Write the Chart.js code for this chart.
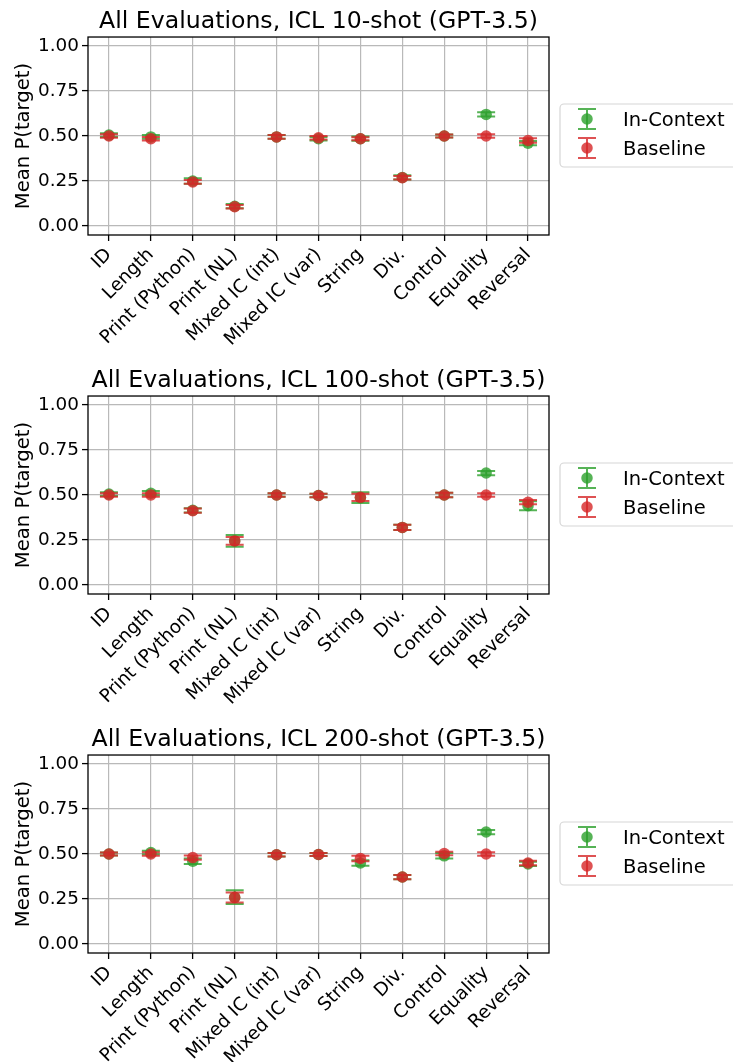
<!DOCTYPE html>
<html>
<head>
<meta charset="utf-8">
<script src="https://cdn.jsdelivr.net/npm/chart.js@4/dist/chart.umd.min.js"></script>
<style>
  body { margin: 0; background: #fff; overflow: hidden; width: 733px; height: 1062px; }
  .panel { position: absolute; left: 0; width: 733px; height: 359px; }
</style>
</head>
<body>
<div class="panel" style="top:0px"><canvas id="c0" width="733" height="359"></canvas></div>
<div class="panel" style="top:359px"><canvas id="c1" width="733" height="359"></canvas></div>
<div class="panel" style="top:718px"><canvas id="c2" width="733" height="359"></canvas></div>
<script>
// categories and tick labels
const categories = ['ID', 'Length', 'Print (Python)', 'Print (NL)', 'Mixed IC (int)', 'Mixed IC (var)', 'String', 'Div.', 'Control', 'Equality', 'Reversal'];
const shotCounts = ['10', '100', '200'];
const yTicks = [0, 0.25, 0.5, 0.75, 1.0];
const seriesNames = ['In-Context', 'Baseline'];

// 10-shot
const inContext10 = [0.505, 0.495, 0.25, 0.11, 0.495, 0.485, 0.485, 0.27, 0.50, 0.62, 0.46];
const inContextErr10 = [0.01, 0.01, 0.015, 0.012, 0.01, 0.01, 0.012, 0.012, 0.008, 0.012, 0.012];
const baseline10 = [0.50, 0.485, 0.245, 0.107, 0.495, 0.49, 0.485, 0.268, 0.50, 0.50, 0.475];
const baselineErr10 = [0.01, 0.01, 0.01, 0.01, 0.01, 0.01, 0.008, 0.01, 0.008, 0.01, 0.012];

// 100-shot
const inContext100 = [0.505, 0.51, 0.415, 0.245, 0.50, 0.497, 0.485, 0.32, 0.50, 0.622, 0.44];
const inContextErr100 = [0.01, 0.012, 0.012, 0.033, 0.01, 0.01, 0.03, 0.015, 0.012, 0.012, 0.025];
const baseline100 = [0.50, 0.50, 0.413, 0.245, 0.50, 0.497, 0.487, 0.32, 0.50, 0.50, 0.46];
const baselineErr100 = [0.01, 0.01, 0.012, 0.022, 0.01, 0.01, 0.02, 0.015, 0.012, 0.01, 0.012];

// 200-shot
const inContext200 = [0.50, 0.508, 0.46, 0.26, 0.496, 0.497, 0.45, 0.372, 0.49, 0.622, 0.445];
const inContextErr200 = [0.008, 0.01, 0.015, 0.038, 0.01, 0.008, 0.015, 0.012, 0.015, 0.012, 0.012];
const baseline200 = [0.50, 0.50, 0.48, 0.258, 0.496, 0.497, 0.475, 0.372, 0.503, 0.50, 0.45];
const baselineErr200 = [0.008, 0.01, 0.012, 0.028, 0.01, 0.008, 0.015, 0.012, 0.01, 0.01, 0.012];

const panels = [
  [inContext10, inContextErr10, baseline10, baselineErr10],
  [inContext100, inContextErr100, baseline100, baselineErr100],
  [inContext200, inContextErr200, baseline200, baselineErr200]
];

const GREEN = 'rgba(44,160,44,0.8)';
const RED = 'rgba(214,39,40,0.8)';
const FONT = "'DejaVu Sans', sans-serif";
const CAP = 9;

// error bars drawn just before each dataset's markers
const errorBars = {
  id: 'errorBars',
  beforeDatasetDraw(chart, args) {
    const ds = chart.data.datasets[args.index];
    if (!ds.errors) return;
    const y = chart.scales.y;
    const ctx = chart.ctx;
    ctx.save();
    ctx.strokeStyle = ds.pointBackgroundColor;
    ctx.lineWidth = 2;
    ctx.beginPath();
    args.meta.data.forEach((pt, i) => {
      const top = y.getPixelForValue(ds.data[i] + ds.errors[i]);
      const bot = y.getPixelForValue(ds.data[i] - ds.errors[i]);
      ctx.moveTo(pt.x, top); ctx.lineTo(pt.x, bot);
      ctx.moveTo(pt.x - CAP, top); ctx.lineTo(pt.x + CAP, top);
      ctx.moveTo(pt.x - CAP, bot); ctx.lineTo(pt.x + CAP, bot);
    });
    ctx.stroke();
    ctx.restore();
  }
};

// axes frame and legend box on the right
const frameAndLegend = {
  id: 'frameAndLegend',
  afterDraw(chart) {
    const ctx = chart.ctx;
    const a = chart.chartArea;
    ctx.save();
    ctx.strokeStyle = '#000';
    ctx.lineWidth = 1.3;
    ctx.strokeRect(a.left, a.top, a.right - a.left, a.bottom - a.top);

    const cy = (a.top + a.bottom) / 2;
    const lx = a.right + 11;
    ctx.fillStyle = 'rgba(255,255,255,0.8)';
    ctx.strokeStyle = '#d6d6d6';
    ctx.lineWidth = 1.2;
    ctx.beginPath();
    ctx.roundRect(lx, cy - 32, 200, 63, 4);
    ctx.fill();
    ctx.stroke();

    const rows = [cy - 17, cy + 12];
    const colors = [GREEN, RED];
    rows.forEach((ry, i) => {
      const ix = a.right + 38;
      ctx.strokeStyle = colors[i];
      ctx.lineWidth = 2;
      ctx.beginPath();
      ctx.moveTo(ix, ry - 10); ctx.lineTo(ix, ry + 10);
      ctx.moveTo(ix - CAP, ry - 10); ctx.lineTo(ix + CAP, ry - 10);
      ctx.moveTo(ix - CAP, ry + 10); ctx.lineTo(ix + CAP, ry + 10);
      ctx.stroke();
      ctx.fillStyle = colors[i];
      ctx.beginPath();
      ctx.arc(ix, ry, 5.75, 0, Math.PI * 2);
      ctx.fill();
      ctx.fillStyle = '#000';
      ctx.font = '19.5px ' + FONT;
      ctx.textBaseline = 'alphabetic';
      ctx.fillText(seriesNames[i], a.right + 74, ry + 7.1);
    });
    ctx.restore();
  }
};

panels.forEach((p, k) => {
  const [ic, icErr, bl, blErr] = p;
  new Chart(document.getElementById('c' + k).getContext('2d'), {
    type: 'line',
    data: {
      labels: categories,
      datasets: [
        { label: seriesNames[0], data: ic, errors: icErr, showLine: false, order: 2,
          pointRadius: 5.75, pointBorderWidth: 0, pointBackgroundColor: GREEN, pointBorderColor: GREEN },
        { label: seriesNames[1], data: bl, errors: blErr, showLine: false, order: 1,
          pointRadius: 5.75, pointBorderWidth: 0, pointBackgroundColor: RED, pointBorderColor: RED }
      ]
    },
    options: {
      responsive: false,
      animation: false,
      events: [],
      layout: { padding: { left: 0, right: 184, top: 0, bottom: 0 } },
      plugins: {
        legend: { display: false },
        tooltip: { enabled: false },
        title: {
          display: true,
          fullSize: false,
          text: 'All Evaluations, ICL ' + shotCounts[k] + '-shot (GPT-3.5)',
          color: '#000',
          font: { family: FONT, size: 23.6, weight: 'normal', lineHeight: 1.2 },
          padding: { top: 7.9, bottom: 0.8 }
        }
      },
      scales: {
        x: {
          type: 'category',
          offset: true,
          afterFit(s) { s.height = 124; },
          grid: { offset: false, color: '#b9b9b9', lineWidth: 1.2, tickColor: '#000', tickLength: 6, tickWidth: 1.3 },
          border: { display: false },
          ticks: {
            autoSkip: false, minRotation: 45, maxRotation: 45, padding: 3,
            color: '#000', font: { family: FONT, size: 18.4 }
          }
        },
        y: {
          min: -0.05,
          max: 1.05,
          afterFit(s) { s.width = 88; },
          afterBuildTicks(s) { s.ticks = yTicks.map(v => ({ value: v })); },
          grid: { color: '#b9b9b9', lineWidth: 1.2, tickColor: '#000', tickLength: 6, tickWidth: 1.3 },
          border: { display: false },
          ticks: {
            padding: 3, color: '#000', font: { family: FONT, size: 18.4 },
            callback: v => Number(v).toFixed(2)
          },
          title: {
            display: true, text: 'Mean P(target)', color: '#000',
            font: { family: FONT, size: 19.6, lineHeight: 1.2 },
            padding: { top: 12, bottom: 0 }
          }
        }
      }
    },
    plugins: [errorBars, frameAndLegend]
  });
});
</script>
</body>
</html>
